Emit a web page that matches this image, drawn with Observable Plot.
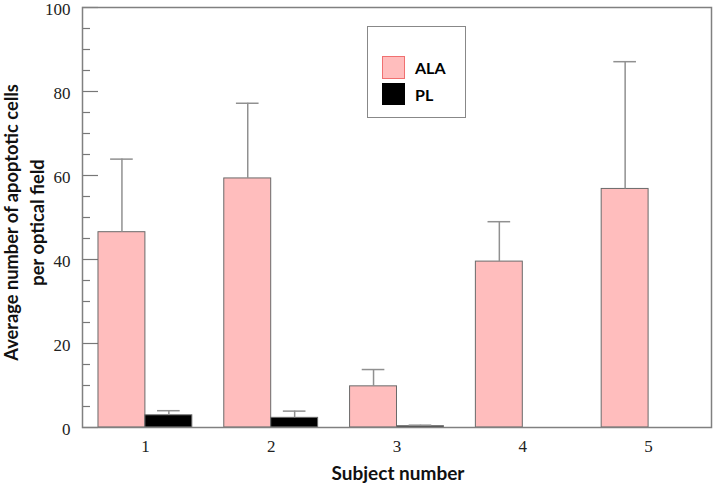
<!DOCTYPE html>
<html>
<head>
<meta charset="utf-8">
<script src="https://cdn.jsdelivr.net/npm/d3@7"></script>
<script src="https://cdn.jsdelivr.net/npm/@observablehq/plot@0.6"></script>
<style>
  html, body { margin: 0; padding: 0; background: #fff; }
  #wrap { position: relative; width: 714px; height: 489px; }
  #legend {
    position: absolute; left: 367px; top: 26px; width: 99px; height: 92px;
    border: 1px solid #888; background: #fff; box-sizing: border-box;
    font-family: Lato, "Open Sans", sans-serif; font-weight: bold; font-size: 16px;
  }
  .item { position: absolute; left: 14px; display: flex; align-items: center; }
  .sw { width: 23px; height: 23px; box-sizing: border-box; margin-right: 10px; }
</style>
</head>
<body>
<div id="wrap"><div id="legend"></div></div>
<script>
const subjects = [1, 2, 3, 4, 5];
const seriesNames = ["ALA", "PL"];
const alaMean = [46.5, 59.3, 9.8, 39.5, 56.8];
const alaUpper = [63.9, 77.2, 13.8, 49.0, 87.1];
const plMean = [2.9, 2.3, 0.3, null, null];
const plUpper = [4.0, 3.9, 0.55, null, null];
const yMajorTicks = [0, 20, 40, 60, 80, 100];
const yMinorTicks = d3.range(0, 101, 5).filter(v => v % 20 !== 0);
const xTickLabels = ["1", "2", "3", "4", "5"];
const xLabel = "Subject number";
const yLabelLines = ["Average number of apoptotic cells", "per optical field"];

const colors = {ALA: "#ffbdbd", PL: "#000000"};
const barW = 0.373;

const rows = [];
subjects.forEach((s, i) => {
  rows.push({subject: s, series: "ALA", mean: alaMean[i], upper: alaUpper[i], x1: s - barW, x2: s});
  if (plMean[i] != null) rows.push({subject: s, series: "PL", mean: plMean[i], upper: plUpper[i], x1: s, x2: s + barW});
});
const mid = d => (d.x1 + d.x2) / 2;

const sansFont = "Lato, 'Open Sans', sans-serif";
const serifFont = "'Liberation Serif', 'DejaVu Serif', serif";

const chart = Plot.plot({
  width: 714,
  height: 489,
  marginLeft: 82,
  marginRight: 3,
  marginTop: 7,
  marginBottom: 62,
  style: {background: "#fff", overflow: "visible"},
  x: {domain: [0.5, 5.5], axis: null},
  y: {domain: [0, 100], axis: null},
  marks: [
    Plot.ruleY(yMajorTicks, {x1: 0.5, x2: 0.5 + 16 / 126, stroke: "#777", strokeWidth: 1.2}),
    Plot.ruleY(yMinorTicks, {x1: 0.5, x2: 0.5 + 8 / 126, stroke: "#777", strokeWidth: 1.2}),
    Plot.rect(rows, {x1: "x1", x2: "x2", y1: 0, y2: "mean", fill: d => colors[d.series], stroke: "#6a6a6a", strokeWidth: 1}),
    Plot.ruleX(rows, {x: mid, y1: "mean", y2: "upper", stroke: "#909090", strokeWidth: 1.5}),
    Plot.ruleY(rows, {y: "upper", x1: d => mid(d) - 0.09, x2: d => mid(d) + 0.09, stroke: "#909090", strokeWidth: 1.5}),
    Plot.frame({stroke: "#808080", strokeWidth: 1.5}),
    Plot.axisY(yMajorTicks, {tickSize: 0, tickPadding: 12, dy: 2, fontSize: 17, fontFamily: serifFont, fill: "#222", label: null}),
    Plot.axisX(subjects, {tickSize: 0, tickPadding: 12, fontSize: 17, fontFamily: serifFont, fill: "#222", label: null, tickFormat: (d, i) => xTickLabels[i]}),
    Plot.text([xLabel], {frameAnchor: "bottom", textAnchor: "middle", dx: 1, dy: 52, fontSize: 19, fontWeight: "bold", fontFamily: sansFont, fill: "#111"}),
    Plot.text([yLabelLines[0]], {frameAnchor: "left", textAnchor: "middle", dx: -70, dy: 5, rotate: -90, fontSize: 18.3, fontWeight: "bold", fontFamily: sansFont, fill: "#111"}),
    Plot.text([yLabelLines[1]], {frameAnchor: "left", textAnchor: "middle", dx: -44, dy: 5, rotate: -90, fontSize: 18.3, fontWeight: "bold", fontFamily: sansFont, fill: "#111"})
  ]
});
const wrap = document.getElementById("wrap");
wrap.insertBefore(chart, wrap.firstChild);

const legend = document.getElementById("legend");
seriesNames.forEach((name, i) => {
  const item = document.createElement("div");
  item.className = "item";
  item.style.top = (i === 0 ? 29 : 56) + "px";
  const sw = document.createElement("div");
  sw.className = "sw";
  sw.style.background = colors[name];
  sw.style.border = name === "ALA" ? "1px solid #f07070" : "1px solid #000";
  if (name === "PL") sw.style.height = "22px";
  const t = document.createElement("span");
  t.textContent = name;
  item.appendChild(sw);
  item.appendChild(t);
  legend.appendChild(item);
});
</script>
</body>
</html>
